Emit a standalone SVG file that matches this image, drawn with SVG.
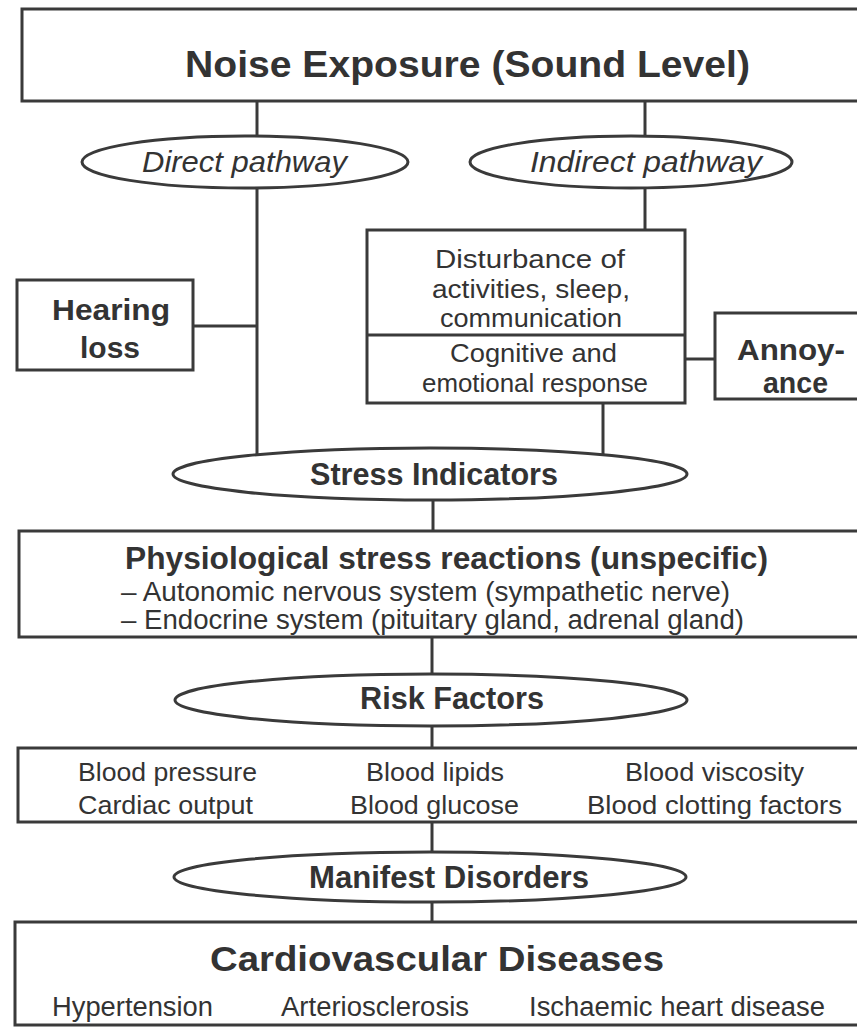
<svg xmlns="http://www.w3.org/2000/svg" width="857" height="1028" viewBox="0 0 857 1028">
<style>
.box{fill:#fff;stroke:#3a3a3a;stroke-width:3}
.ell{fill:#fff;stroke:#3a3a3a;stroke-width:3}
.ln{stroke:#3a3a3a;stroke-width:3;fill:none}
text{font-family:"Liberation Sans",Arial,sans-serif;fill:#333}
.b{font-weight:bold}
.i{font-style:italic}
</style>
<rect width="857" height="1028" fill="#fff"/>
<g id="connectors">
<line class="ln" x1="257" y1="101" x2="257" y2="140"/>
<line class="ln" x1="645" y1="101" x2="645" y2="140"/>
<line class="ln" x1="257" y1="186" x2="257" y2="460"/>
<line class="ln" x1="193" y1="326" x2="257" y2="326"/>
<line class="ln" x1="645" y1="186" x2="645" y2="230"/>
<line class="ln" x1="685" y1="359" x2="715" y2="359"/>
<line class="ln" x1="603" y1="403" x2="603" y2="460"/>
<line class="ln" x1="433" y1="498" x2="433" y2="531"/>
<line class="ln" x1="432" y1="637" x2="432" y2="676"/>
<line class="ln" x1="432" y1="724" x2="432" y2="748"/>
<line class="ln" x1="432" y1="822" x2="432" y2="854"/>
<line class="ln" x1="432" y1="900" x2="432" y2="922"/>
</g>
<g id="noise">
<rect class="box" x="22" y="9" width="860" height="92"/>
<text class="b" x="185" y="77" font-size="36" textLength="565" lengthAdjust="spacingAndGlyphs">Noise Exposure (Sound Level)</text>
</g>
<g id="direct">
<ellipse class="ell" cx="245" cy="162" rx="163" ry="26"/>
<text class="i" x="142" y="172" font-size="29" textLength="205" lengthAdjust="spacingAndGlyphs">Direct pathway</text>
</g>
<g id="indirect">
<ellipse class="ell" cx="631" cy="162" rx="161" ry="26"/>
<text class="i" x="530" y="172" font-size="29" textLength="232" lengthAdjust="spacingAndGlyphs">Indirect pathway</text>
</g>
<g id="hearing">
<rect class="box" x="17" y="280" width="176" height="90"/>
<text class="b" x="52" y="320" font-size="30" textLength="118" lengthAdjust="spacingAndGlyphs">Hearing</text>
<text class="b" x="80" y="358" font-size="30" textLength="60" lengthAdjust="spacingAndGlyphs">loss</text>
</g>
<g id="disturbance">
<rect class="box" x="367" y="230" width="318" height="173"/>
<line class="ln" x1="367" y1="335" x2="685" y2="335"/>
<text x="435" y="268" font-size="26" textLength="190" lengthAdjust="spacingAndGlyphs">Disturbance of</text>
<text x="432" y="298" font-size="26" textLength="198" lengthAdjust="spacingAndGlyphs">activities, sleep,</text>
<text x="440" y="327" font-size="26" textLength="182" lengthAdjust="spacingAndGlyphs">communication</text>
<text x="450" y="362" font-size="26" textLength="167" lengthAdjust="spacingAndGlyphs">Cognitive and</text>
<text x="422" y="392" font-size="26" textLength="226" lengthAdjust="spacingAndGlyphs">emotional response</text>
</g>
<g id="annoyance">
<rect class="box" x="715" y="313" width="160" height="86"/>
<text class="b" x="737" y="360" font-size="29" textLength="108" lengthAdjust="spacingAndGlyphs">Annoy-</text>
<text class="b" x="763" y="393" font-size="29" textLength="65" lengthAdjust="spacingAndGlyphs">ance</text>
</g>
<g id="stress">
<ellipse class="ell" cx="430" cy="474" rx="257" ry="26"/>
<text class="b" x="310" y="485" font-size="31" textLength="248" lengthAdjust="spacingAndGlyphs">Stress Indicators</text>
</g>
<g id="physiological">
<rect class="box" x="19" y="531" width="860" height="106"/>
<text class="b" x="125" y="569" font-size="31" textLength="643" lengthAdjust="spacingAndGlyphs">Physiological stress reactions (unspecific)</text>
<text x="121" y="601" font-size="27" textLength="609" lengthAdjust="spacingAndGlyphs">– Autonomic nervous system (sympathetic nerve)</text>
<text x="121" y="629" font-size="27" textLength="623" lengthAdjust="spacingAndGlyphs">– Endocrine system (pituitary gland, adrenal gland)</text>
</g>
<g id="risk">
<ellipse class="ell" cx="431" cy="700" rx="256" ry="26"/>
<text class="b" x="360" y="709" font-size="31" textLength="184" lengthAdjust="spacingAndGlyphs">Risk Factors</text>
</g>
<g id="blood">
<rect class="box" x="18" y="748" width="860" height="74"/>
<text x="78" y="781" font-size="26" textLength="179" lengthAdjust="spacingAndGlyphs">Blood pressure</text>
<text x="78" y="814" font-size="26" textLength="175" lengthAdjust="spacingAndGlyphs">Cardiac output</text>
<text x="366" y="781" font-size="26" textLength="138" lengthAdjust="spacingAndGlyphs">Blood lipids</text>
<text x="350" y="814" font-size="26" textLength="169" lengthAdjust="spacingAndGlyphs">Blood glucose</text>
<text x="625" y="781" font-size="26" textLength="179" lengthAdjust="spacingAndGlyphs">Blood viscosity</text>
<text x="587" y="814" font-size="26" textLength="255" lengthAdjust="spacingAndGlyphs">Blood clotting factors</text>
</g>
<g id="manifest">
<ellipse class="ell" cx="430" cy="877" rx="256" ry="25"/>
<text class="b" x="309" y="888" font-size="31" textLength="280" lengthAdjust="spacingAndGlyphs">Manifest Disorders</text>
</g>
<g id="cvd">
<rect class="box" x="15" y="922" width="860" height="103"/>
<text class="b" x="210" y="971" font-size="35" textLength="454" lengthAdjust="spacingAndGlyphs">Cardiovascular Diseases</text>
<text x="52" y="1016" font-size="27" textLength="161" lengthAdjust="spacingAndGlyphs">Hypertension</text>
<text x="281" y="1016" font-size="27" textLength="188" lengthAdjust="spacingAndGlyphs">Arteriosclerosis</text>
<text x="529" y="1016" font-size="27" textLength="296" lengthAdjust="spacingAndGlyphs">Ischaemic heart disease</text>
</g>
</svg>
